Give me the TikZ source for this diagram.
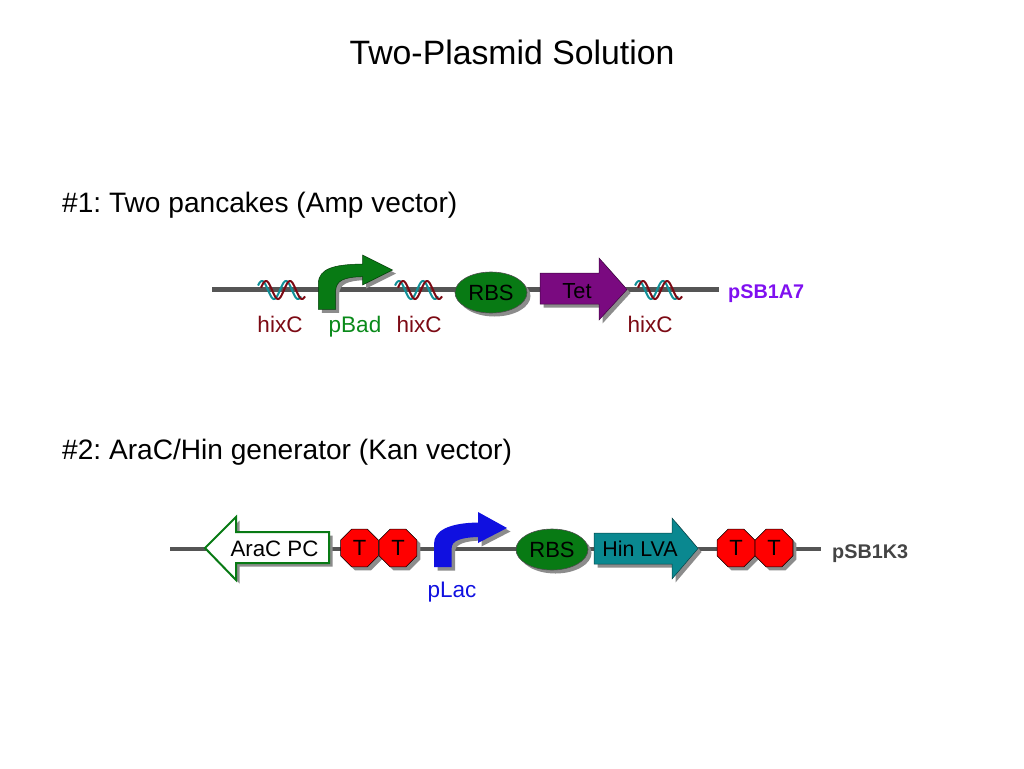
\documentclass[tikz,border=0pt]{standalone}
\usepackage{fontspec}
\setmainfont{Liberation Sans}
\usetikzlibrary{shapes.geometric,shadows}
\definecolor{linegray}{HTML}{555555}
\definecolor{shadowgray}{HTML}{8C8C8C}
\definecolor{rbsgreen}{HTML}{087A14}
\definecolor{dnared}{HTML}{7C0A14}
\definecolor{dnateal}{HTML}{109098}
\definecolor{tetpurple}{HTML}{7A0A80}
\definecolor{hinteal}{HTML}{0A8890}
\definecolor{labelgreen}{HTML}{0A8A1A}
\definecolor{labelblue}{HTML}{1010E0}
\definecolor{vecpurple}{HTML}{7F10F0}
\definecolor{vecgray}{HTML}{444444}
\tikzset{
  x=1pt,y=-1pt,
  backbone/.style={draw=linegray,line width=4.2pt},
  shad/.style={fill=shadowgray,draw=none},
  rbsnode/.style={ellipse,draw=black!70,line width=.6pt,fill=rbsgreen,minimum width=72pt,minimum height=41pt,inner sep=0pt,font=\fontsize{22}{24}\selectfont,drop shadow={shadow xshift=3.5pt,shadow yshift=-3.5pt,fill=shadowgray,opacity=1}},
  termnode/.style={regular polygon,regular polygon sides=8,minimum size=41pt,inner sep=0pt,draw=black,line width=.6pt,fill=red,font=\fontsize{22}{24}\selectfont,drop shadow={shadow xshift=3.5pt,shadow yshift=-3.5pt,fill=shadowgray,opacity=1}},
  lab/.style={font=\fontsize{22.5}{24}\selectfont,inner sep=0pt,anchor=base},
  veclab/.style={font=\bfseries\fontsize{19.8}{22}\selectfont,inner sep=0pt,anchor=base west},
  headtext/.style={font=\fontsize{28.1}{30}\selectfont,inner sep=0pt,anchor=base west},
  gene/.style={font=\fontsize{21.8}{24}\selectfont,inner sep=0pt,anchor=base},
}
\newcommand{\dnahelix}[2]{%
  \draw[dnateal,line width=2pt,smooth,domain=0:43,samples=50,shift={(#1,#2)}] plot (\x,{-9*sin((\x+2)*15)});%
  \draw[dnared,line width=2pt,smooth,domain=3:47,samples=50,shift={(#1,#2)}] plot (\x,{-9*sin((\x-2)*15)});%
}
\begin{document}
\frenchspacing
\begin{tikzpicture}
\useasboundingbox (0,0) rectangle (1024,768);
\node[font=\fontsize{33.8}{36}\selectfont,inner sep=0pt] (title) at (512,52) {Two-Plasmid Solution};
\node[headtext] (head1) at (62,212) {\#1: Two pancakes (Amp vector)};
\node[headtext] (head2) at (62,459) {\#2: AraC/Hin generator (Kan vector)};

% plasmid 1
\coordinate (a0) at (212,289.5);
\coordinate (a1) at (719,289.5);
\draw[backbone] (a0) -- (a1);
\dnahelix{258}{290}
\dnahelix{395}{290}
\dnahelix{635}{290}

\def\pbad{(318.3,309.3) -- (335.7,309.3) -- (335.7,290) .. controls (336.5,281) and (343,277) .. (362.5,276.7) -- (362.5,285) -- (392.5,270) -- (362.5,255) -- (362.5,264) .. controls (335,264.5) and (318.3,268) .. (318.3,284) -- cycle}
\fill[shad,shift={(3.5,3.5)}] \pbad;
\fill[rbsgreen,draw=black!50!rbsgreen,line width=.5pt] \pbad;

\node[rbsnode] (rbs1) at (491,292.5) {RBS};

\def\tetarrow{(540,273) -- (599,273) -- (599,258) -- (627,289.5) -- (599,320) -- (599,304) -- (540,304) -- cycle}
\fill[shad,shift={(3.5,3.5)}] \tetarrow;
\fill[tetpurple,draw=black!50!tetpurple,line width=.5pt] \tetarrow;
\node[gene] (tet) at (577,298.5) {Tet};

\node[lab,text=dnared] (h1) at (280,332.5) {hixC};
\node[lab,text=labelgreen] (pbad) at (355,332.5) {pBad};
\node[lab,text=dnared] (h2) at (419,332.5) {hixC};
\node[lab,text=dnared] (h3) at (650,332.5) {hixC};
\node[veclab,text=vecpurple] (va) at (728,298) {pSB1A7};

% plasmid 2
\coordinate (b0) at (170,549);
\coordinate (b1) at (821,549);
\draw[backbone] (b0) -- (b1);

\def\aracarrow{(205,548) -- (236,517) -- (236,532) -- (329,532) -- (329,563) -- (236,563) -- (236,580) -- cycle}
\fill[shad,shift={(3.5,3.5)}] \aracarrow;
\filldraw[fill=white,draw=rbsgreen,line width=2pt] \aracarrow;
\node[gene,font=\fontsize{22.3}{24}\selectfont] (arac) at (274.5,556) {AraC PC};

\node[termnode] (t1) at (359.5,548) {T};
\node[termnode] (t2) at (398,548) {T};

\def\placarrow{(434,567) -- (451.7,567) -- (451.7,548) .. controls (451.7,541) and (460,537.5) .. (478,537) -- (478,543) -- (507,528) -- (478,512) -- (478,522.5) .. controls (450,523) and (434,530) .. (434,544) -- cycle}
\fill[shad,shift={(3.5,3.5)}] \placarrow;
\fill[labelblue] \placarrow;

\node[rbsnode] (rbs2) at (552,549.5) {RBS};

\def\hinarrow{(594,533) -- (672,533) -- (672,518) -- (698,548.5) -- (672,579) -- (672,564) -- (594,564) -- cycle}
\fill[shad,shift={(3.5,3.5)}] \hinarrow;
\fill[hinteal,draw=black!50!hinteal,line width=.5pt] \hinarrow;
\node[gene,font=\fontsize{21.4}{24}\selectfont] (hin) at (640,556.5) {Hin LVA};

\node[termnode] (t3) at (736,548) {T};
\node[termnode] (t4) at (774,548) {T};

\node[lab,text=labelblue] (plac) at (452,597.5) {pLac};
\node[veclab,text=vecgray] (vk) at (832,558) {pSB1K3};
\end{tikzpicture}
\end{document}
